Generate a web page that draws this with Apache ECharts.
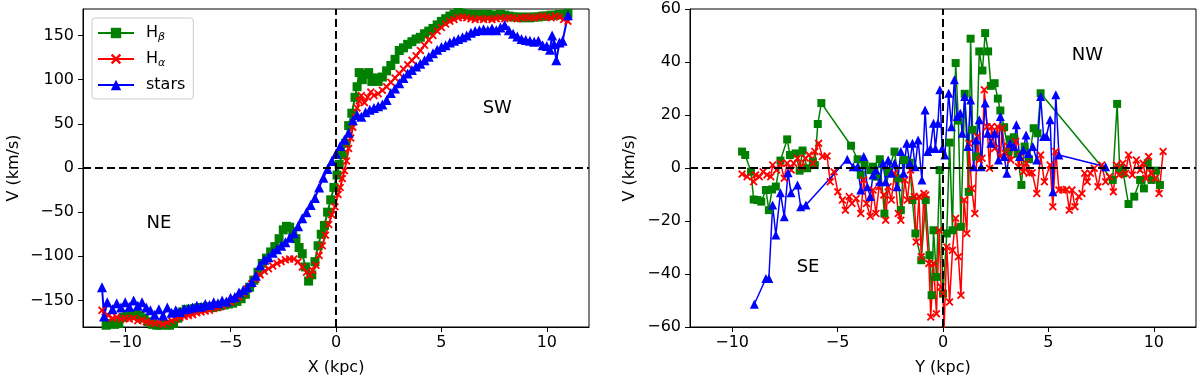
<!DOCTYPE html>
<html>
<head>
<meta charset="utf-8">
<script src="https://cdn.jsdelivr.net/npm/echarts@6/dist/echarts.min.js"></script>
<style>
  html, body { margin: 0; padding: 0; background: #fff; }
  #chart { width: 1200px; height: 381px; }
</style>
</head>
<body>
<div id="chart"></div>
<script>
// ── data: [position (kpc), velocity (km/s)] ──
const leftHbeta = [
  [-10.9,-178],[-10.7,-176],[-10.5,-177],[-10.3,-176],[-10.1,-169],[-9.9,-166],[-9.7,-166],[-9.5,-165],[-9.3,-167],[-9.1,-170],
  [-8.9,-174],[-8.7,-177],[-8.5,-178],[-8.3,-178],[-8.1,-177],[-7.9,-178],[-7.7,-176],[-7.5,-170],[-7.3,-163],[-7.1,-160],
  [-6.9,-160],[-6.7,-159],[-6.5,-158],[-6.3,-158],[-6.1,-157],[-5.9,-158],[-5.7,-157],[-5.5,-156],[-5.3,-155],[-5.1,-154],
  [-4.9,-153],[-4.7,-151],[-4.5,-148],[-4.3,-143],[-4.1,-135],[-3.9,-127],[-3.7,-118],[-3.5,-108],[-3.3,-102],[-3.1,-95],
  [-2.9,-89],[-2.7,-80],[-2.5,-70],[-2.35,-66],[-2.2,-67],[-2.05,-72],[-1.9,-80],[-1.75,-90],[-1.6,-97],[-1.45,-112],
  [-1.3,-128],[-1.15,-121],[-1.0,-106],[-0.85,-88],[-0.7,-75],[-0.55,-65],[-0.4,-50],[-0.25,-36],[-0.1,-22],[0.05,-8],
  [0.15,4],[0.3,15],[0.45,28],[0.6,48],[0.75,62],[0.9,80],[1.0,92],[1.1,108],[1.25,100],[1.4,106],
  [1.55,108],[1.7,98],[1.85,102],[2.0,98],[2.2,103],[2.4,110],[2.6,116],[2.8,123],[3.0,133],[3.2,136],
  [3.4,140],[3.6,143],[3.8,146],[4.0,148],[4.2,152],[4.4,155],[4.6,158],[4.8,162],[5.0,166],[5.2,169],
  [5.4,172],[5.6,174],[5.8,176],[6.0,175],[6.2,174],[6.4,174],[6.6,173],[6.8,174],[7.0,173],[7.2,174],
  [7.4,173],[7.6,173],[7.8,174],[8.0,173],[8.2,172],[8.4,171],[8.6,171],[8.8,170],[9.0,171],[9.2,170],
  [9.4,171],[9.6,171],[9.8,172],[10.0,172],[10.2,173],[10.4,173],[10.6,174],[10.8,174],[11.0,175]
];
const leftHalpha = [
  [-11.1,-161],[-10.95,-169],[-10.8,-167],[-10.6,-170],[-10.4,-169],[-10.2,-171],[-10.0,-170],[-9.8,-171],[-9.6,-170],[-9.4,-173],
  [-9.2,-172],[-9.0,-174],[-8.8,-175],[-8.6,-176],[-8.4,-175],[-8.2,-177],[-8.0,-175],[-7.8,-173],[-7.6,-171],[-7.4,-169],
  [-7.2,-168],[-7.0,-167],[-6.8,-166],[-6.6,-164],[-6.4,-163],[-6.2,-162],[-6.0,-161],[-5.8,-159],[-5.6,-158],[-5.4,-156],
  [-5.2,-154],[-5.0,-152],[-4.8,-149],[-4.6,-146],[-4.4,-142],[-4.2,-137],[-4.0,-131],[-3.8,-126],[-3.6,-121],[-3.4,-117],
  [-3.2,-114],[-3.0,-111],[-2.8,-108],[-2.6,-106],[-2.4,-104],[-2.2,-103],[-2.0,-103],[-1.8,-106],[-1.6,-112],[-1.4,-118],
  [-1.25,-121],[-1.1,-116],[-0.95,-110],[-0.8,-99],[-0.65,-88],[-0.5,-76],[-0.35,-64],[-0.2,-53],[-0.05,-44],[0.1,-30],
  [0.2,-22],[0.3,-12],[0.4,-3],[0.5,8],[0.6,22],[0.7,34],[0.8,46],[0.9,58],[1.0,68],[1.1,76],
  [1.2,82],[1.35,74],[1.5,80],[1.65,86],[1.8,82],[2.0,84],[2.2,88],[2.4,92],[2.6,97],[2.8,102],
  [3.0,107],[3.2,112],[3.4,117],[3.6,122],[3.8,127],[4.0,133],[4.2,139],[4.4,145],[4.6,150],[4.8,155],
  [5.0,159],[5.2,163],[5.4,166],[5.6,168],[5.8,170],[6.0,171],[6.2,170],[6.4,169],[6.6,168],[6.8,169],
  [7.0,168],[7.2,169],[7.4,168],[7.6,169],[7.8,170],[8.0,169],[8.2,170],[8.4,170],[8.6,169],[8.8,170],
  [9.0,171],[9.2,170],[9.4,170],[9.6,171],[9.8,172],[10.0,171],[10.2,170],[10.4,172],[10.6,171],[10.8,168],[11.0,166]
];
const leftStars = [
  [-11.1,-135],[-11.0,-168],[-10.85,-152],[-10.6,-160],[-10.4,-153],[-10.2,-158],[-10.0,-152],[-9.8,-157],[-9.6,-150],[-9.4,-156],
  [-9.2,-152],[-9.0,-158],[-8.8,-161],[-8.6,-166],[-8.4,-160],[-8.2,-167],[-8.0,-158],[-7.8,-164],[-7.6,-161],[-7.4,-163],
  [-7.2,-160],[-7.0,-159],[-6.8,-158],[-6.6,-156],[-6.4,-157],[-6.2,-154],[-6.0,-155],[-5.8,-152],[-5.6,-153],[-5.4,-150],
  [-5.2,-151],[-5.0,-147],[-4.8,-146],[-4.6,-141],[-4.4,-138],[-4.2,-135],[-4.0,-129],[-3.8,-122],[-3.6,-110],[-3.4,-104],
  [-3.2,-101],[-3.0,-96],[-2.8,-92],[-2.6,-88],[-2.4,-84],[-2.2,-79],[-2.0,-74],[-1.8,-66],[-1.6,-57],[-1.4,-50],
  [-1.2,-42],[-1.0,-34],[-0.8,-22],[-0.6,-11],[-0.4,-1],[-0.2,8],[0.0,16],[0.2,25],[0.4,32],[0.6,40],
  [0.8,54],[1.0,60],[1.2,58],[1.4,63],[1.6,66],[1.8,68],[2.0,70],[2.2,72],[2.4,77],[2.6,85],
  [2.8,90],[3.0,96],[3.2,102],[3.4,107],[3.6,111],[3.8,115],[4.0,118],[4.2,122],[4.4,126],[4.6,130],
  [4.8,134],[5.0,137],[5.2,139],[5.4,142],[5.6,144],[5.8,146],[6.0,148],[6.2,150],[6.4,153],[6.6,155],
  [6.8,156],[7.0,157],[7.2,156],[7.4,158],[7.6,156],[7.8,159],[8.0,162],[8.2,156],[8.4,152],[8.6,149],
  [8.8,146],[9.0,145],[9.2,144],[9.4,143],[9.6,144],[9.8,139],[10.0,138],[10.15,134],[10.25,150],[10.35,140],
  [10.45,122],[10.6,142],[10.75,144],[11.0,173]
];

const rightHbeta = [
  [-9.53,6.2],[-9.38,4.9],[-9.11,-1.4],[-8.98,-11.9],[-8.8,-12.1],[-8.62,-12.7],[-8.4,-8.3],[-8.26,-15.9],[-8.11,-8.1],[-7.93,-7],
  [-7.71,2.8],[-7.39,10.8],[-7.26,4.9],[-6.99,5.5],[-6.8,-1],[-6.66,6.6],[-6.44,-0.1],[-6.17,2.4],[-6.08,1.1],[-5.94,16.6],
  [-5.77,24.5],[-4.36,8.4],[-4.05,3.3],[-3.9,-2.6],[-3.72,1.1],[-3.45,-0.8],[-3.32,0.5],[-3.18,-3.3],[-3.0,3.3],[-2.78,-17.2],
  [-2.6,-1.4],[-2.3,6.2],[-2.12,-3.9],[-2.0,-15.9],[-1.85,3.0],[-1.58,2.0],[-1.45,-12.1],[-1.31,-24.7],[-1.03,-34.8],[-0.82,-12.1],
  [-0.64,-32.9],[-0.54,-48],[-0.45,-23.5],[-0.31,-41.1],[-0.16,-0.8],[0.0,-47.4],[0.18,-24.7],[0.31,9.6],[0.45,-23.5],[0.6,39.6],
  [0.73,17.9],[0.85,-22.2],[1.03,28],[1.22,-9],[1.31,48.8],[1.4,14.4],[1.58,4.3],[1.72,44],[1.87,36.8],[2.0,50.9],
  [2.14,44],[2.27,31],[2.45,32],[2.6,26.2],[2.72,21.7],[2.9,15.4],[3.09,6.2],[3.18,10.8],[3.36,11.6],[3.54,5.3],
  [3.72,-6.4],[3.87,8.1],[4.08,3.3],[4.3,15],[4.48,13.1],[4.63,28.2],[8.05,-4.5],[8.26,24.2],[8.38,-0.1],[8.55,-2],
  [8.8,-13.6],[9.07,-10.8],[9.35,-4.5],[9.53,-7.7],[9.71,1.8],[9.89,-4.5],[10.1,-1],[10.29,-6.4]
];
const rightHalpha = [
  [-9.53,-2.3],[-9.29,-3.3],[-8.98,-5.2],[-8.89,-2.6],[-8.71,-3.3],[-8.53,-1.4],[-8.35,-2.6],[-8.17,-3.3],[-8.08,1.1],[-7.89,-0.8],
  [-7.71,1.8],[-7.53,-3.9],[-7.39,1.8],[-7.2,-0.8],[-7.08,1.8],[-6.9,3.7],[-6.72,0.5],[-6.53,3.7],[-6.35,4.9],[-6.17,1.8],
  [-6.08,6.2],[-5.9,9.3],[-5.72,4.3],[-5.5,4.5],[-5.35,-5.2],[-5.17,-1.4],[-4.99,-9],[-4.77,-12.1],[-4.63,-15.9],[-4.45,-10.8],
  [-4.32,-13.4],[-4.12,-11.5],[-3.9,-17.2],[-3.76,-4.5],[-3.63,-13.4],[-3.45,-18.2],[-3.32,-8.3],[-3.18,-17.2],[-3.03,-7.1],[-2.81,-10.2],
  [-2.72,-19.7],[-2.6,-7.1],[-2.45,-12.1],[-2.3,-2],[-2.12,-17.2],[-2.0,-19.7],[-1.81,-4.5],[-1.69,-12.1],[-1.54,-0.8],[-1.36,-10.8],
  [-1.27,-27.9],[-1.14,-10.8],[-1.03,-33.5],[-0.91,-9.6],[-0.82,-10.2],[-0.67,-36],[-0.58,-56.2],[-0.45,-36],[-0.31,-55],[-0.18,-23.5],
  [-0.09,-44.9],[0.0,-47.4],[0.05,-60.7],[0.18,-29.8],[0.31,-50.6],[0.45,-31],[0.6,-19],[0.73,-33.5],[0.85,-48],[1.0,-12.1],
  [1.13,-24.7],[1.23,9.3],[1.36,-7.7],[1.51,-17.2],[1.63,11.9],[1.72,3],[1.85,3.7],[1.96,29.5],[2.09,15.6],[2.21,-0.1],
  [2.3,15.6],[2.45,7.4],[2.58,15.6],[2.72,4.3],[2.81,15],[2.96,5.5],[3.09,8.1],[3.21,3],[3.32,8.1],[3.45,10],
  [3.58,0.5],[3.68,4.3],[3.81,-1.4],[3.94,1.8],[4.08,-2],[4.23,-1.8],[4.45,-9.6],[4.63,4.9],[4.81,-5.2],[5.08,1.1],
  [5.21,-14.6],[5.35,6.2],[5.5,-8.3],[5.68,-8.3],[5.86,-8.1],[5.99,-15.9],[6.12,-8.3],[6.26,-14.6],[6.44,-10.8],[6.59,-9.6],
  [6.72,-2],[6.84,-5.2],[6.99,-2],[7.17,-0.1],[7.35,-7.1],[7.53,1.1],[7.71,-5.2],[7.89,-3.3],[8.08,-9],[8.22,1.1],
  [8.35,-2.6],[8.53,1.8],[8.66,-2],[8.8,4.9],[8.98,-2.6],[9.17,3],[9.35,-0.8],[9.49,1.8],[9.62,-3.9],[9.75,4.3],
  [9.89,-2],[10.07,-3.9],[10.25,-9.6],[10.44,6.2]
];
const rightStars = [
  [-8.95,-51.4],[-8.4,-41.7],[-8.26,-41.7],[-8.08,-14],[-7.93,-25.3],[-7.71,-9.3],[-7.53,-18.4],[-7.35,-1.8],[-7.21,-9.3],[-6.9,-6.4],
  [-6.75,-14.6],[-6.5,-14],[-4.54,3.3],[-4.26,0.5],[-4.05,0.5],[-3.9,-8.3],[-3.76,4.3],[-3.59,-7.1],[-3.45,-10.8],[-3.32,-2.6],
  [-3.18,-0.8],[-3.0,-5.2],[-2.85,1.8],[-2.72,-5.2],[-2.6,3],[-2.45,-2],[-2.3,1.8],[-2.18,-7.1],[-2.0,6.2],[-1.87,-2],
  [-1.72,9.3],[-1.58,1.8],[-1.45,9.3],[-1.32,0.5],[-1.18,10.6],[-1.0,-4.5],[-0.85,21.9],[-0.73,6.2],[-0.6,7.4],[-0.45,16.9],
  [-0.36,7.4],[-0.24,16.9],[-0.15,29.5],[-0.04,7.4],[0.09,4.9],[0.27,28.2],[0.4,15.6],[0.54,33.3],[0.67,19.4],[0.82,20.7],
  [0.91,13.1],[1.03,27],[1.18,8.1],[1.31,25.7],[1.45,0.5],[1.58,10.6],[1.72,18.2],[1.81,0.5],[2.0,24.5],[2.12,13.1],
  [2.27,9.3],[2.45,13.1],[2.63,3],[2.72,19.4],[2.9,4.3],[3.03,-2],[3.18,9.3],[3.36,8.1],[3.48,16.3],[3.63,4.3],
  [3.81,6.8],[3.94,12.5],[4.05,5.5],[4.26,8.1],[4.45,3],[4.63,27],[4.77,11.9],[4.9,11.9],[5.08,18.2],[5.21,-9],
  [5.35,27.6],[5.5,4.9],[7.71,0.5]
];

const xTicks = [-10, -5, 0, 5, 10];
const leftYTicks = [-150, -100, -50, 0, 50, 100, 150];
const seriesNames = ['H\u03b2', 'H\u03b1', 'stars'];
const seriesColors = ['#008000', '#ff0000', '#0000ff'];
// region labels: [panel, x, v, text]
const regionLabels = [
  [0, -8.4, -62.6, 'NE'],
  [0, 7.65, 67.6, 'SW'],
  [1, -6.4, -37.6, 'SE'],
  [1, 6.85, 42.5, 'NW']
];

const FONT = 'DejaVu Sans';
const xMark = 'path://M0,1.6L1.6,0L5,3.4L8.4,0L10,1.6L6.6,5L10,8.4L8.4,10L5,6.6L1.6,10L0,8.4L3.4,5Z';
const symbols = ['rect', xMark, 'triangle'];

const minus = (v) => String(v).replace('-', '\u2212');

function xAxisFor(i) {
  return {
    gridIndex: i,
    type: 'value',
    min: -12,
    max: 12,
    name: i === 0 ? 'X (kpc)' : 'Y (kpc)',
    nameLocation: 'middle',
    nameGap: 33,
    nameTextStyle: { fontFamily: FONT, fontSize: 16, color: '#000' },
    axisLine: { show: true, onZero: false, lineStyle: { color: '#000', width: 1 } },
    axisTick: { show: true, inside: false, length: 5, customValues: xTicks, lineStyle: { color: '#000' } },
    axisLabel: { customValues: xTicks, margin: 8, fontFamily: FONT, fontSize: 16, color: '#000', formatter: minus },
    splitLine: { show: false }
  };
}

function yAxisFor(i) {
  const base = {
    gridIndex: i,
    type: 'value',
    name: 'V (km/s)',
    nameLocation: 'middle',
    nameTextStyle: { fontFamily: FONT, fontSize: 16, color: '#000' },
    axisLine: { show: true, onZero: false, lineStyle: { color: '#000', width: 1 } },
    axisTick: { show: true, inside: false, length: 5, lineStyle: { color: '#000' } },
    axisLabel: { margin: 9, fontFamily: FONT, fontSize: 16, color: '#000', formatter: minus },
    splitLine: { show: false }
  };
  if (i === 0) {
    base.min = -180;
    base.max = 180;
    base.nameGap = 61;
    base.axisTick.customValues = leftYTicks;
    base.axisLabel.customValues = leftYTicks;
  } else {
    base.min = -60;
    base.max = 60;
    base.interval = 20;
    base.nameGap = 52;
  }
  return base;
}

function zeroLines() {
  return {
    silent: true,
    symbol: 'none',
    label: { show: false },
    z: 10,
    lineStyle: { color: '#000', type: [8, 4], width: 2 },
    data: [{ xAxis: 0 }, { yAxis: 0 }]
  };
}

const panels = [
  [leftHbeta, leftHalpha, leftStars],
  [rightHbeta, rightHalpha, rightStars]
];

const series = [];
panels.forEach((sets, p) => {
  sets.forEach((data, k) => {
    const thin = p === 1;
    const sizes = thin ? [8, 8, 9] : [9, 8, 10];
    const s = {
      name: seriesNames[k],
      type: 'line',
      xAxisIndex: p,
      yAxisIndex: p,
      data: data,
      symbol: symbols[k],
      symbolSize: sizes[k],
      showAllSymbol: true,
      color: seriesColors[k],
      itemStyle: { color: seriesColors[k] },
      lineStyle: { color: seriesColors[k], width: thin ? 1.5 : 2 },
      emphasis: { disabled: true },
      animation: false
    };
    if (k === 2) s.markLine = zeroLines();
    series.push(s);
  });
});

const chart = echarts.init(document.getElementById('chart'));
chart.setOption({
  backgroundColor: '#fff',
  animation: false,
  textStyle: { fontFamily: FONT },
  grid: [
    { left: 83, top: 9, width: 506, height: 318, show: true, borderColor: '#000', borderWidth: 1, backgroundColor: 'transparent' },
    { left: 690, top: 9, width: 506, height: 318, show: true, borderColor: '#000', borderWidth: 1, backgroundColor: 'transparent' }
  ],
  xAxis: [xAxisFor(0), xAxisFor(1)],
  yAxis: [yAxisFor(0), yAxisFor(1)],
  legend: {
    data: seriesNames,
    orient: 'vertical',
    left: 92,
    top: 18,
    itemWidth: 36,
    itemHeight: 13,
    itemGap: 8,
    padding: [7, 8, 6, 5],
    backgroundColor: 'rgba(255,255,255,0.8)',
    borderColor: '#cccccc',
    borderWidth: 1,
    borderRadius: 3,
    selectedMode: false,
    formatter: (name) => name === 'stars' ? '{m|stars}' : '{m|H}{s|' + name.slice(1) + '}',
    textStyle: {
      padding: [0, 0, 0, 7],
      rich: {
        m: { fontFamily: FONT, fontSize: 16, color: '#000', lineHeight: 18 },
        s: { fontFamily: FONT, fontSize: 11, fontStyle: 'italic', color: '#000', padding: [9, 0, 0, 0] }
      }
    }
  },
  series: series
});

chart.setOption({
  graphic: regionLabels.map(([p, x, v, t]) => {
    const pt = chart.convertToPixel({ gridIndex: p }, [x, v]);
    return {
      type: 'text',
      x: pt[0],
      y: pt[1],
      z: 20,
      style: { text: t, fontFamily: FONT, fontSize: 18, fill: '#000', align: 'center', verticalAlign: 'middle' }
    };
  })
});
</script>
</body>
</html>
